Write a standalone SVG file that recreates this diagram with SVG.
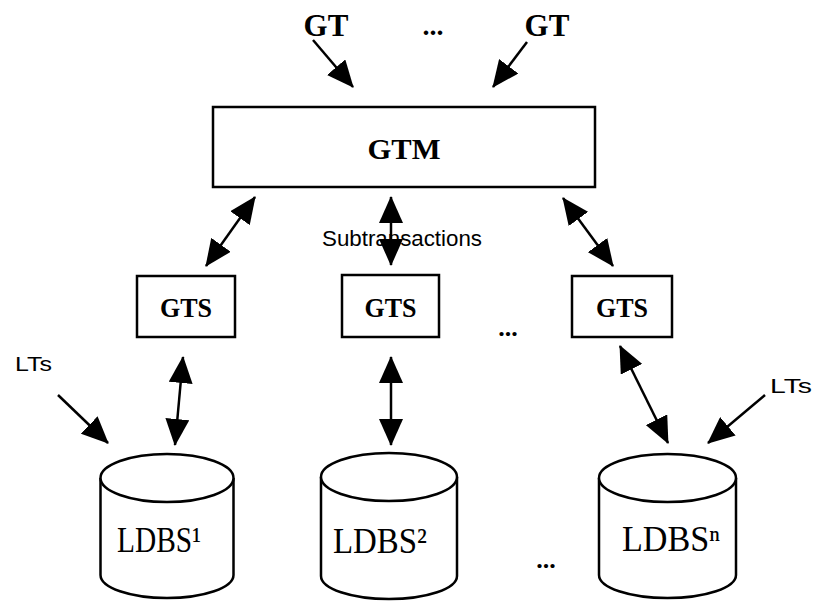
<svg xmlns="http://www.w3.org/2000/svg" width="818" height="603" viewBox="0 0 818 603">
  <style>
    .box { fill: #fff; stroke: #000; stroke-width: 2.5; }
    .db { fill: #fff; stroke: #000; stroke-width: 2.5; }
    .bold { font-family: "Liberation Serif", "Times New Roman", serif; font-weight: bold; fill: #000; }
    .serif { font-family: "Liberation Serif", "DejaVu Serif", "Times New Roman", serif; fill: #000; }
    .sans { font-family: "Liberation Sans", Arial, sans-serif; fill: #000; }
    .conn line { stroke: #000; stroke-width: 2.5; }
  </style>
  <defs>
    <marker id="head" viewBox="0 0 27 24" refX="26" refY="12" markerWidth="27" markerHeight="24" markerUnits="userSpaceOnUse" orient="auto-start-reverse">
      <path d="M0,0 L27,12 L0,24 Z" fill="#000"/>
    </marker>
  </defs>

  <!-- incoming global transactions -->
  <g id="gt-inputs">
    <text class="bold" x="326" y="36" font-size="31" text-anchor="middle">GT</text>
    <text class="bold" x="433" y="35" font-size="28" text-anchor="middle">...</text>
    <text class="bold" x="547" y="36" font-size="31" text-anchor="middle">GT</text>
  </g>

  <!-- global transaction manager -->
  <g id="gtm">
    <rect class="box" x="213" y="107" width="382" height="80"/>
    <text class="bold" x="404" y="159" font-size="30" text-anchor="middle" textLength="73" lengthAdjust="spacingAndGlyphs">GTM</text>
  </g>

  <!-- global transaction servers -->
  <g id="gts1">
    <rect class="box" x="137" y="276" width="98" height="61"/>
    <text class="bold" x="186" y="317" font-size="27" text-anchor="middle" textLength="52" lengthAdjust="spacingAndGlyphs">GTS</text>
  </g>
  <g id="gts2">
    <rect class="box" x="342" y="275" width="97" height="62"/>
    <text class="bold" x="390.5" y="317" font-size="27" text-anchor="middle" textLength="52" lengthAdjust="spacingAndGlyphs">GTS</text>
  </g>
  <g id="gts3">
    <rect class="box" x="572" y="276" width="100" height="61"/>
    <text class="bold" x="622" y="317" font-size="27" text-anchor="middle" textLength="52" lengthAdjust="spacingAndGlyphs">GTS</text>
  </g>
  <text class="bold" x="508" y="336" font-size="26" text-anchor="middle">...</text>

  <!-- local database systems -->
  <g id="ldbs1">
    <path class="db" d="M100.5,478 V575 A66.5,23 0 0 0 233.5,575 V478"/>
    <ellipse class="db" cx="167" cy="478" rx="66.5" ry="24"/>
    <text class="serif" x="117" y="552" font-size="35" textLength="84" lengthAdjust="spacingAndGlyphs">LDBS¹</text>
  </g>
  <g id="ldbs2">
    <path class="db" d="M321,477 V576 A68,23 0 0 0 457,576 V477"/>
    <ellipse class="db" cx="389" cy="477" rx="68" ry="24"/>
    <text class="serif" x="333" y="553" font-size="35" textLength="94" lengthAdjust="spacingAndGlyphs">LDBS²</text>
  </g>
  <g id="ldbsn">
    <path class="db" d="M599,478 V575 A68.5,23 0 0 0 736,575 V478"/>
    <ellipse class="db" cx="667.5" cy="478" rx="68.5" ry="24"/>
    <text class="serif" x="622" y="551" font-size="35" textLength="98" lengthAdjust="spacingAndGlyphs">LDBSⁿ</text>
  </g>
  <text class="bold" x="546" y="568" font-size="26" text-anchor="middle">...</text>

  <!-- local transactions -->
  <g id="lts-left">
    <text class="sans" x="15" y="371" font-size="21" textLength="37" lengthAdjust="spacingAndGlyphs">LTs</text>
  </g>
  <g id="lts-right">
    <text class="sans" x="770" y="393" font-size="21" textLength="42" lengthAdjust="spacingAndGlyphs">LTs</text>
  </g>

  <!-- connectors -->
  <g id="connectors" class="conn">
    <line x1="313" y1="40" x2="353" y2="87" marker-end="url(#head)"/>
    <line x1="527" y1="42" x2="493" y2="87" marker-end="url(#head)"/>

    <line x1="255" y1="197" x2="206" y2="266" marker-start="url(#head)" marker-end="url(#head)"/>
    <line x1="391" y1="197" x2="391" y2="265" marker-start="url(#head)" marker-end="url(#head)"/>
    <line x1="563" y1="198" x2="613" y2="266" marker-start="url(#head)" marker-end="url(#head)"/>

    <line x1="183" y1="357" x2="175" y2="445" marker-start="url(#head)" marker-end="url(#head)"/>
    <line x1="391" y1="357" x2="391" y2="445" marker-start="url(#head)" marker-end="url(#head)"/>
    <line x1="620" y1="346" x2="668" y2="443" marker-start="url(#head)" marker-end="url(#head)"/>

    <line x1="58" y1="395" x2="108" y2="443" marker-end="url(#head)"/>
    <line x1="765" y1="395" x2="708" y2="443" marker-end="url(#head)"/>
  </g>

  <text class="sans" x="322" y="246" font-size="22" textLength="160" lengthAdjust="spacingAndGlyphs">Subtransactions</text>
</svg>
